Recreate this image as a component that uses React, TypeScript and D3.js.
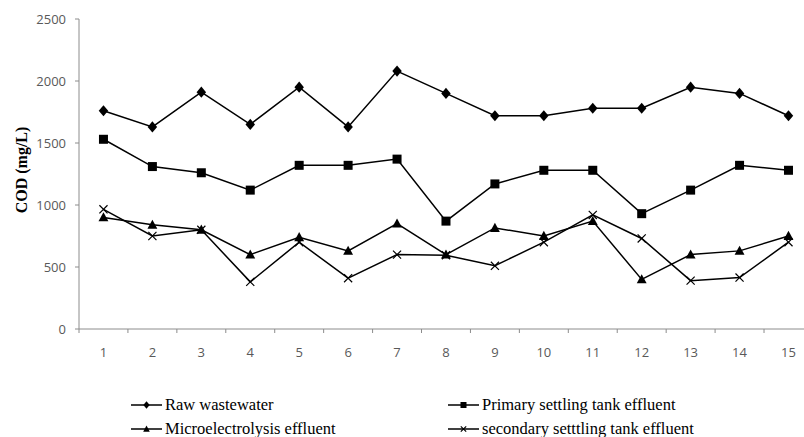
import React from "react";
import * as d3 from "d3";

const samples = ["1", "2", "3", "4", "5", "6", "7", "8", "9", "10", "11", "12", "13", "14", "15"];
const rawWastewater = [1760, 1630, 1910, 1650, 1950, 1630, 2080, 1900, 1720, 1720, 1780, 1780, 1950, 1900, 1720];
const primaryEffluent = [1530, 1310, 1260, 1120, 1320, 1320, 1370, 870, 1170, 1280, 1280, 930, 1120, 1320, 1280];
const microEffluent = [900, 840, 800, 600, 740, 630, 850, 600, 815, 750, 870, 400, 600, 630, 750];
const secondaryEffluent = [965, 750, 800, 380, 700, 410, 600, 595, 510, 700, 920, 730, 390, 415, 700];
const yTicks = [0, 500, 1000, 1500, 2000, 2500];
const seriesNames = [
  "Raw wastewater",
  "Primary settling tank effluent",
  "Microelectrolysis effluent",
  "secondary setttling tank effluent",
];

const W = 804;
const H = 437;

type Shape = "diamond" | "square" | "triangle" | "cross";

function Marker({ shape, x, y, s }: { shape: Shape; x: number; y: number; s: number }) {
  if (shape === "diamond") {
    const r = s * 0.62;
    return <path d={`M${x},${y - r}L${x + r * 0.85},${y}L${x},${y + r}L${x - r * 0.85},${y}Z`} fill="#000" />;
  }
  if (shape === "square") {
    const h = s * 0.5;
    return <rect x={x - h} y={y - h} width={h * 2} height={h * 2} fill="#000" />;
  }
  if (shape === "triangle") {
    const h = s * 0.55;
    return <path d={`M${x},${y - h * 1.05}L${x + h},${y + h * 0.8}L${x - h},${y + h * 0.8}Z`} fill="#000" />;
  }
  const h = s * 0.45;
  return (
    <path
      d={`M${x - h},${y - h}L${x + h},${y + h}M${x - h},${y + h}L${x + h},${y - h}`}
      stroke="#000"
      strokeWidth={1.2}
      fill="none"
    />
  );
}

export default function App() {
  const x = d3.scaleBand<string>().domain(samples).range([79, 79 + 15 * 48.93]);
  const y = d3.scaleLinear().domain([0, 2500]).range([329, 19]);
  const cx = (d: string) => (x(d) ?? 0) + x.bandwidth() / 2;

  const series: { values: number[]; shape: Shape }[] = [
    { values: rawWastewater, shape: "diamond" },
    { values: primaryEffluent, shape: "square" },
    { values: microEffluent, shape: "triangle" },
    { values: secondaryEffluent, shape: "cross" },
  ];

  const line = d3
    .line<number>()
    .x((_, i) => cx(samples[i]))
    .y((v) => y(v));

  const legendPos = [
    { lx: 131, ly: 405 },
    { lx: 448, ly: 405 },
    { lx: 131, ly: 429 },
    { lx: 448, ly: 429 },
  ];

  const bounds = x.range();

  return (
    <svg
      width={W}
      height={H}
      style={{ position: "absolute", left: 0, top: 0, background: "#fff" }}
    >
      {/* y axis */}
      <line x1={79} x2={79} y1={y(2500)} y2={y(0)} stroke="#8c8c8c" />
      {yTicks.map((t) => (
        <g key={t}>
          <line x1={75} x2={79} y1={y(t)} y2={y(t)} stroke="#8c8c8c" />
          <text
            x={66}
            y={y(t)}
            dy="0.35em"
            textAnchor="end"
            fontFamily="'Open Sans', sans-serif"
            fontSize={13}
            fill="#595959"
          >
            {t}
          </text>
        </g>
      ))}
      {/* x axis */}
      <line x1={bounds[0]} x2={bounds[1]} y1={y(0)} y2={y(0)} stroke="#8c8c8c" />
      {samples.map((s) => (
        <g key={s}>
          <line x1={x(s)} x2={x(s)} y1={y(0)} y2={y(0) + 4} stroke="#8c8c8c" />
          <text
            x={cx(s)}
            y={352}
            dy="0.35em"
            textAnchor="middle"
            fontFamily="'Open Sans', sans-serif"
            fontSize={13}
            fill="#595959"
          >
            {s}
          </text>
        </g>
      ))}
      <text
        transform="translate(21,170) rotate(-90)"
        textAnchor="middle"
        dy="0.35em"
        fontFamily="'Liberation Serif', 'Times New Roman', serif"
        fontWeight="bold"
        fontSize={16}
        fill="#000"
      >
        COD (mg/L)
      </text>

      {/* series */}
      {series.map((se, k) => (
        <g key={k}>
          <path d={line(se.values) ?? ""} fill="none" stroke="#000" strokeWidth={1.5} />
          {se.values.map((v, i) => (
            <Marker key={i} shape={se.shape} x={cx(samples[i])} y={y(v)} s={9} />
          ))}
        </g>
      ))}

      {/* legend */}
      {series.map((se, k) => {
        const { lx, ly } = legendPos[k];
        return (
          <g key={k}>
            <line x1={lx} x2={lx + 31} y1={ly} y2={ly} stroke="#000" strokeWidth={1.5} />
            <Marker shape={se.shape} x={lx + 15.5} y={ly} s={6} />
            <text
              x={lx + 34}
              y={ly}
              dy="0.33em"
              fontFamily="'Liberation Serif', 'Times New Roman', serif"
              fontSize={16.5}
              fill="#000"
            >
              {seriesNames[k]}
            </text>
          </g>
        );
      })}
    </svg>
  );
}
